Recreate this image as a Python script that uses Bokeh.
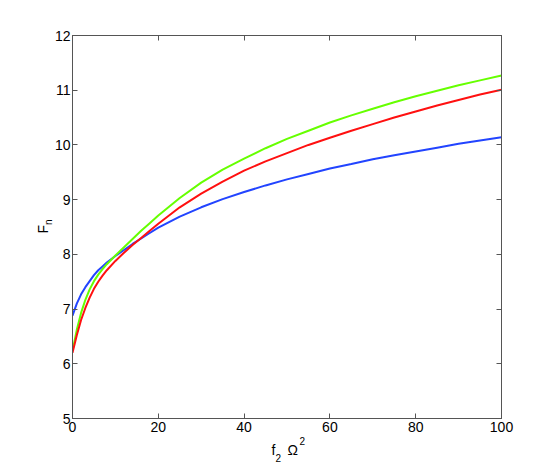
import numpy as np
from bokeh.plotting import figure
from bokeh.models import Range1d, LinearAxis, FixedTicker, Label
from bokeh.embed import file_html
from bokeh.resources import INLINE

# ---- data ----
x_vals = [0, 1, 2, 3, 4, 5, 6, 7, 8, 10, 12, 14, 16, 18, 20, 25, 30, 35, 40, 45, 50, 55, 60, 65,
          70, 75, 80, 85, 90, 95, 100]
blue = [6.88, 7.10, 7.27, 7.40, 7.51, 7.62, 7.71, 7.78, 7.85, 7.97, 8.08, 8.19, 8.29, 8.39, 8.49,
        8.69, 8.86, 9.01, 9.14, 9.26, 9.37, 9.47, 9.57, 9.65, 9.74, 9.81, 9.88, 9.95, 10.02, 10.08,
        10.14]
red = [6.20, 6.52, 6.80, 7.02, 7.21, 7.37, 7.50, 7.61, 7.71, 7.88, 8.03, 8.17, 8.30, 8.43, 8.56,
       8.86, 9.11, 9.33, 9.53, 9.70, 9.85, 10.00, 10.13, 10.26, 10.38, 10.50, 10.61, 10.72, 10.82,
       10.92, 11.01]
green = [6.24, 6.62, 6.93, 7.17, 7.36, 7.51, 7.63, 7.73, 7.82, 7.98, 8.13, 8.28, 8.43, 8.57, 8.71,
         9.03, 9.31, 9.55, 9.75, 9.94, 10.11, 10.26, 10.41, 10.54, 10.66, 10.78, 10.89, 10.99,
         11.09, 11.18, 11.27]
x_ticks = [0, 20, 40, 60, 80, 100]
y_ticks = [5, 6, 7, 8, 9, 10, 11, 12]

FONT = "Liberation Sans"
AX = "#555555"

p = figure(width=554, height=470, output_backend="svg", toolbar_location=None,
           x_range=Range1d(0, 100), y_range=Range1d(5, 12),
           x_axis_location=None, y_axis_location=None,
           min_border_left=72, min_border_right=53, min_border_top=35, min_border_bottom=52)
p.grid.visible = False
p.outline_line_color = AX
p.background_fill_color = "white"
p.border_fill_color = "white"

def style(ax, show_labels, standoff=3):
    ax.axis_line_color = AX
    ax.major_tick_line_color = AX
    ax.major_tick_in = 5
    ax.major_tick_out = 0
    ax.minor_tick_line_color = None
    ax.major_label_text_font = FONT
    ax.major_label_text_font_size = "14px"
    ax.major_label_text_color = "black"
    ax.major_label_standoff = standoff
    if not show_labels:
        ax.major_label_text_alpha = 0
        ax.major_label_text_font_size = "1px"
        ax.major_label_standoff = 0

xb = LinearAxis(ticker=FixedTicker(ticks=x_ticks)); style(xb, True, 3)
xt = LinearAxis(ticker=FixedTicker(ticks=x_ticks)); style(xt, False)
yl = LinearAxis(ticker=FixedTicker(ticks=y_ticks)); style(yl, True, 2)
yr = LinearAxis(ticker=FixedTicker(ticks=y_ticks)); style(yr, False)
p.add_layout(xb, "below")
p.add_layout(xt, "above")
p.add_layout(yl, "left")
p.add_layout(yr, "right")

p.line(x_vals, blue, line_color="#2244ff", line_width=2)
p.line(x_vals, green, line_color="#66ff00", line_width=2)
p.line(x_vals, red, line_color="#ff1010", line_width=2)

# axis labels f_2 Ω^2 and F_n, built from pieces; they are put in side panels that have
# room to spare so that they are not clipped to the frame and do not shrink it
def lab(side, x, y, t, size, angle=0):
    p.add_layout(Label(x=x, y=y, text=t, text_font=FONT, text_font_size=size,
                       text_color="black", angle=angle, text_align="left",
                       text_baseline="alphabetic"), side)

lab("right", 46.39, 4.433, "f", "14px")
lab("above", 47.32, 4.269, "2", "10px")
lab("right", 50.12, 4.433, "\u03a9", "14px")
lab("above", 52.91, 4.580, "2", "10px")

lab("left", -6.99, 8.381, "F", "14px", angle=np.pi / 2)
lab("left", -5.59, 8.537, "n", "10px", angle=np.pi / 2)

open("out.html", "w").write(file_html(p, INLINE))
